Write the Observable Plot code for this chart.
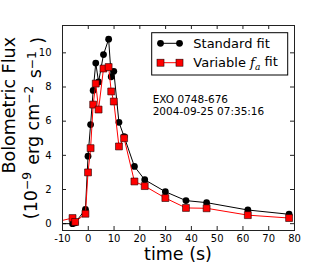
<!DOCTYPE html>
<html>
<head>
<meta charset="utf-8">
<script src="https://cdn.jsdelivr.net/npm/d3@7"></script>
<script src="https://cdn.jsdelivr.net/npm/@observablehq/plot@0.6"></script>
<style>
  html, body { margin: 0; padding: 0; background: white; }
</style>
</head>
<body>
<div id="chart"></div>
<script>
// Time since burst start (s)
const times = [-14, -6.1, -5.1, -1.1, -0.1, 0.9, 1.9, 2.9, 4.0, 5.9, 7.9, 8.9, 9.9, 11.9, 13.9, 17.9, 21.9, 29.9, 37.9, 45.9, 61.9, 77.9];
// Bolometric flux (1e-9 erg cm^-2 s^-1)
const standardFit = [0, 0, 0.05, 0.84, 3.95, 5.8, 7.8, 9.4, 8.3, 9.9, 10.8, 8.6, 8.92, 5.93, 5.1, 3.35, 2.57, 1.87, 1.35, 1.23, 0.8, 0.55];
const variableFit = [0.05, 0.33, 0.1, 0.58, 3.0, 4.42, 6.97, 8.2, 6.68, 9.08, 9.17, 7.74, 7.15, 4.52, 5.0, 2.47, 2.2, 1.5, 0.92, 0.9, 0.5, 0.33];
const xTicks = [-10, 0, 10, 20, 30, 40, 50, 60, 70, 80];
const yTicks = [0, 2, 4, 6, 8, 10];
const seriesNames = ["Standard fit", "Variable f_a fit"];
const annotation = ["EXO 0748-676", "2004-09-25 07:35:16"];

const std = times.map((t, i) => ({t, f: standardFit[i]}));
const vari = times.map((t, i) => ({t, f: variableFit[i]}));

const W = 327, H = 262;
const mL = 62, mR = 33, mT = 25, mB = 32;
const fw = W - mL - mR, fh = H - mT - mB;
const tk = 4;

const plot = Plot.plot({
  width: W, height: H,
  marginLeft: mL, marginRight: mR, marginTop: mT, marginBottom: mB,
  style: {background: "white", fontFamily: "'DejaVu Sans', sans-serif", fontSize: "10px", color: "black", overflow: "visible"},
  x: {domain: [-10, 80]},
  y: {domain: [-0.4, 11.6]},
  marks: [
    Plot.axisX(xTicks, {tickSize: 0, tickPadding: 4.5, tickFormat: d => String(d), label: null, fontSize: 10}),
    Plot.axisY(yTicks, {tickSize: 0, tickPadding: 11, tickFormat: d => String(d), label: null, fontSize: 10}),
    // inward ticks on all four sides
    Plot.tickX(xTicks, {x: d => d, insetTop: fh - tk, stroke: "#222"}),
    Plot.tickX(xTicks, {x: d => d, insetBottom: fh - tk, stroke: "#222"}),
    Plot.tickY(yTicks, {y: d => d, insetRight: fw - tk, stroke: "#222"}),
    Plot.tickY(yTicks, {y: d => d, insetLeft: fw - tk, stroke: "#222"}),
    Plot.line(std, {x: "t", y: "f", stroke: "black", strokeWidth: 1, clip: true}),
    Plot.dot(std, {x: "t", y: "f", r: 3.4, fill: "black", stroke: "none", clip: true}),
    Plot.line(vari, {x: "t", y: "f", stroke: "red", strokeWidth: 1, clip: true}),
    Plot.dot(vari, {x: "t", y: "f", symbol: "square", r: 3.9, fill: "red", stroke: "#200", strokeWidth: 0.6, clip: true}),
    Plot.frame({stroke: "#222", strokeWidth: 1})
  ]
});
document.getElementById("chart").appendChild(plot);

const svg = d3.select(plot);
const ff = "'DejaVu Sans', sans-serif";

// x label
svg.append("text").attr("x", mL + fw / 2).attr("y", 260)
  .attr("text-anchor", "middle").attr("font-family", ff).attr("font-size", 17.5)
  .attr("fill", "black").text("time (s)");

// y label (two lines)
svg.append("text").attr("transform", "translate(15,37) rotate(-90)")
  .attr("text-anchor", "end").attr("font-family", ff).attr("font-size", 17.5)
  .attr("fill", "black").text("Bolometric Flux");
const yl2 = svg.append("text").attr("transform", "translate(36.5,37) rotate(-90)")
  .attr("text-anchor", "end").attr("font-family", ff).attr("font-size", 17.5).attr("fill", "black");
const sup = (sel, s) => {
  sel.append("tspan").attr("dy", "-0.45em").attr("font-size", "70%").text(s);
  sel.append("tspan").attr("dy", "0.45em").text("\u200A");
};
yl2.append("tspan").text("(10");
sup(yl2, "\u22129");
yl2.append("tspan").text(" erg cm");
sup(yl2, "\u22122");
yl2.append("tspan").text(" s");
sup(yl2, "\u22121");
yl2.append("tspan").text(" )");

// annotation
annotation.forEach((s, i) => {
  svg.append("text").attr("x", 152.7).attr("y", 103.3 + i * 12).attr("text-anchor", "start")
    .attr("font-family", ff).attr("font-size", 10.5).attr("fill", "black").text(s);
});

// legend
const lg = svg.append("g").attr("text-anchor", "start");
lg.append("rect").attr("x", 151.7).attr("y", 32.7).attr("width", 136).attr("height", 42.3)
  .attr("fill", "white").attr("stroke", "black").attr("stroke-width", 1);
const ly = [43.3, 62.7];
lg.append("line").attr("x1", 160.5).attr("x2", 179.5).attr("y1", ly[0]).attr("y2", ly[0]).attr("stroke", "black");
[160.5, 179.5].forEach(x => lg.append("circle").attr("cx", x).attr("cy", ly[0]).attr("r", 3.4).attr("fill", "black"));
lg.append("line").attr("x1", 160.5).attr("x2", 179.5).attr("y1", ly[1]).attr("y2", ly[1]).attr("stroke", "red");
[160.5, 179.5].forEach(x => lg.append("rect").attr("x", x - 3.5).attr("y", ly[1] - 3.5).attr("width", 7).attr("height", 7)
  .attr("fill", "red").attr("stroke", "#200").attr("stroke-width", 0.6));
lg.append("text").attr("x", 193.3).attr("y", 48.3).attr("text-anchor", "start").attr("font-family", ff).attr("font-size", 13).attr("fill", "black").text(seriesNames[0]);
const t2 = lg.append("text").attr("x", 193.3).attr("y", 67.3).attr("text-anchor", "start").attr("font-family", ff).attr("font-size", 13).attr("fill", "black");
t2.append("tspan").text("Variable ");
t2.append("tspan").attr("font-family", "'DejaVu Serif', serif").attr("font-style", "italic").text("f");
t2.append("tspan").attr("font-family", "'DejaVu Serif', serif").attr("font-style", "italic").attr("font-size", "70%").attr("dy", "0.25em").text("a");
t2.append("tspan").attr("dy", "-0.25em").text(" fit");
</script>
</body>
</html>
